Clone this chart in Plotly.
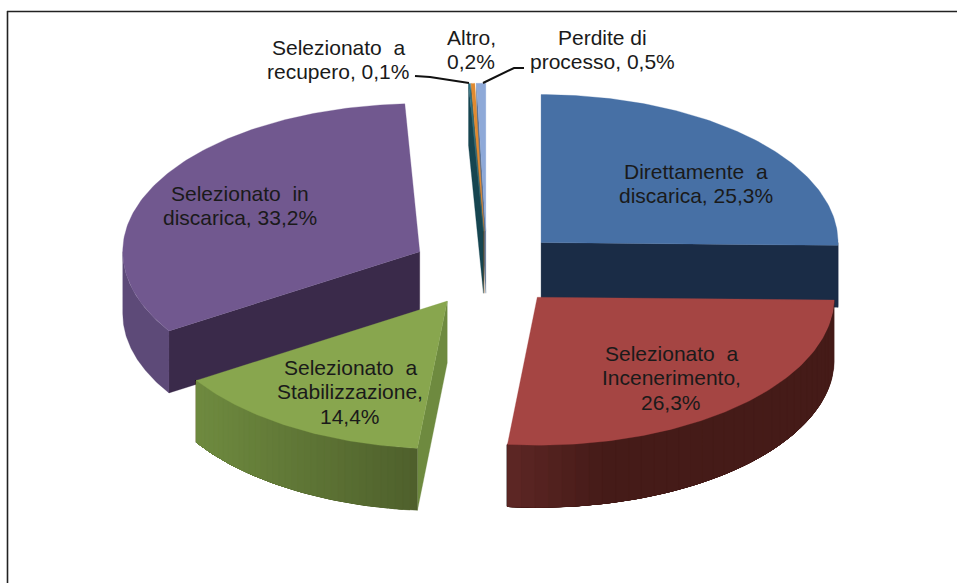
import math
import plotly.graph_objects as go

categories = ["Direttamente a discarica", "Selezionato a Incenerimento", "Selezionato a Stabilizzazione",
              "Selezionato in discarica", "Selezionato a recupero", "Altro", "Perdite di processo"]
values = [25.3, 26.3, 14.4, 33.2, 0.1, 0.2, 0.5]
label_lines = [["Direttamente  a", "discarica, 25,3%"], ["Selezionato  a", "Incenerimento,", "26,3%"],
               ["Selezionato  a", "Stabilizzazione,", "14,4%"], ["Selezionato  in", "discarica, 33,2%"],
               ["Selezionato  a", "recupero, 0,1%"], ["Altro,", "0,2%"], ["Perdite di", "processo, 0,5%"]]

# Styling and layout
top_colors = ["#4770a5", "#a54543", "#88a64e", "#71588f", "#2d7080", "#e08a30", "#8ea9d8"]
face_colors = ["#1a2c46", "#451b18", "#6e8a3f", "#3a2a4a", "#164550", "#8a5520", "#5a6f90"]
arc_left = ["#1a2c46", "#5e2725", "#6f8b40", "#5d4a78", "#164550", "#8a5520", "#5a6f90"]
arc_right = ["#1a2c46", "#451b18", "#4f602c", "#5d4a78", "#164550", "#8a5520", "#5a6f90"]
draw_order = [3, 6, 5, 4, 0, 2, 1]
LABEL_POS = [(696, 171), (671, 353), (350, 367), (240, 193), (338, 47), (471, 37), (602, 37)]
LINE_STEP = 24.5
CX, CY, RX, RY, DEPTH, EXPLODE = 487, 269, 297, 148, 62, 0.255


def rgb(h):
    return [int(h[i:i + 2], 16) for i in (1, 3, 5)]


def mix(a, b, t):
    t = max(0, min(1, t))
    p, q = rgb(a), rgb(b)
    return "rgb(%d,%d,%d)" % tuple(p[i] + (q[i] - p[i]) * t for i in range(3))


def poly(fig, pts, color):
    fig.add_trace(go.Scatter(x=[p[0] for p in pts] + [pts[0][0]], y=[p[1] for p in pts] + [pts[0][1]],
                             mode="lines", fill="toself", fillcolor=color,
                             line=dict(color=color, width=0.3), hoverinfo="skip", showlegend=False))


fig = go.Figure()
total = sum(values)
starts = [sum(values[:i]) / total * 2 * math.pi for i in range(len(values))]

for i in draw_order:
    a0 = starts[i]
    a1 = a0 + values[i] / total * 2 * math.pi
    mid = (a0 + a1) / 2
    ax = CX + EXPLODE * RX * math.sin(mid)
    ay = CY - EXPLODE * RY * math.cos(mid)
    pt = lambda a: (ax + RX * math.sin(a), ay - RY * math.cos(a))
    down = lambda p: (p[0], p[1] + DEPTH)
    # radial faces that look toward the viewer
    if math.sin(a1) > 0:
        p = pt(a1)
        poly(fig, [(ax, ay), p, down(p), (ax, ay + DEPTH)], face_colors[i])
    if math.sin(a0) < 0:
        p = pt(a0)
        poly(fig, [(ax, ay), p, down(p), (ax, ay + DEPTH)], face_colors[i])
    # outer wall: overlapping bands so the shading has no seams
    lo = max(a0, math.pi / 2)
    hi = min(a1, 3 * math.pi / 2)
    if hi > lo:
        n = 1 if arc_left[i] == arc_right[i] else 36
        fine = 72
        xs_all = [pt(lo + (hi - lo) * k / fine)[0] for k in range(fine + 1)]
        xmin, xmax = min(xs_all), max(xs_all)
        for k in range(n):
            s = lo + (hi - lo) * k / n
            arc = [s + (hi - s) * j / fine for j in range(fine + 1)]
            p = pt(s + (hi - lo) / (2 * n))
            t = (p[0] - xmin) / (xmax - xmin)
            if i == 1:
                t = t / 0.3
            poly(fig, [pt(a) for a in arc] + [down(pt(a)) for a in reversed(arc)],
                 mix(arc_left[i], arc_right[i], t))
    # top surface
    n = max(2, int((a1 - a0) * 60))
    poly(fig, [(ax, ay)] + [pt(a0 + (a1 - a0) * k / n) for k in range(n + 1)], top_colors[i])

# Leader lines for the outside labels
for xs, ys in [([415, 430, 469], [76, 77, 83]), ([524, 514, 483], [68, 68, 83])]:
    fig.add_trace(go.Scatter(x=xs, y=ys, mode="lines", line=dict(color="#111111", width=2),
                             hoverinfo="skip", showlegend=False))

for lines, (x, y) in zip(label_lines, LABEL_POS):
    for j, line in enumerate(lines):
        fig.add_annotation(x=x, y=y + j * LINE_STEP, text=line, showarrow=False,
                           xanchor="center", yanchor="middle",
                           font=dict(family="Liberation Sans", size=21, color="#1a1a1a"))

# Chart frame: top and left edges
fig.add_shape(type="line", x0=7, x1=957, y0=11.5, y1=11.5, line=dict(color="#222222", width=1.6))
fig.add_shape(type="line", x0=7.5, x1=7.5, y0=11, y1=583, line=dict(color="#222222", width=1.6))

fig.update_layout(width=957, height=583, margin=dict(l=0, r=0, t=0, b=0),
                  paper_bgcolor="white", plot_bgcolor="white", showlegend=False,
                  xaxis=dict(range=[0, 957], visible=False, fixedrange=True),
                  yaxis=dict(range=[583, 0], visible=False, fixedrange=True))
fig.write_html("out.html", config=dict(displayModeBar=False),
               post_script="document.body.style.margin='0';document.body.style.overflow='hidden';")
